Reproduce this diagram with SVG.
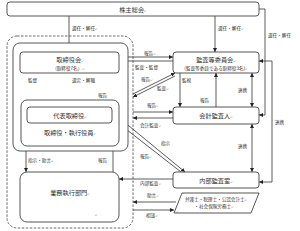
<svg xmlns="http://www.w3.org/2000/svg" width="300" height="231" viewBox="0 0 300 231">
<defs>
<marker id="ah" viewBox="0 0 6 6" refX="6" refY="3" markerWidth="4" markerHeight="4" orient="auto-start-reverse" markerUnits="userSpaceOnUse">
<path d="M0,0 L6,3 L0,6 z" fill="#222"/>
</marker>
<style>
.box{fill:#fff;stroke:#444;stroke-width:0.9}
.t{font-family:"Noto Sans CJK JP","Noto Sans CJK SC",sans-serif;fill:#333;font-size:6.2px}
.s{font-family:"Noto Sans CJK JP","Noto Sans CJK SC",sans-serif;fill:#333;font-size:4.6px}
.r{font-family:"DejaVu Sans",sans-serif;font-size:3px;fill:#777}
.c{stroke:#333;stroke-width:0.8;fill:none}
.a{marker-end:url(#ah)}
.b{marker-start:url(#ah);marker-end:url(#ah)}
</style>
</defs>
<rect width="300" height="231" fill="#fff"/>
<g id="connectors">
<path class="c a" d="M69,16 V52"/>
<path class="c a" d="M215,16 V52"/>
<path class="c a" d="M259,9 H265 V115 H259"/>
<path class="c b" d="M259,61 H272 V182 H259"/>
<path class="c a" d="M119,57 H173"/>
<path class="c a" d="M173,61 H119"/>
<path class="c a" d="M133,94 L175,73"/>
<path class="c a" d="M175,76 L133,97"/>
<path class="c a" d="M26,73 V100"/>
<path class="c a" d="M69,73 V107"/>
<path class="c a" d="M113,100 V73"/>
<path class="c a" d="M180,73 V107"/>
<path class="c a" d="M216,107 V73"/>
<path class="c b" d="M252,73 V107"/>
<path class="c b" d="M252,124 V172"/>
<path class="c a" d="M133,112 H173"/>
<path class="c a" d="M173,118 H133"/>
<path class="c a" d="M112,112 L185,172"/>
<path class="c a" d="M181,172 L113,119"/>
<path class="c a" d="M26,146 V172"/>
<path class="c a" d="M113,172 V146"/>
<path class="c a" d="M173,179 H119"/>
<path class="c a" d="M176,202 H133"/>
<path class="c a" d="M133,210 H174"/>
</g>
<g id="kabunushi">
<rect class="box" x="7" y="2" width="252" height="14" rx="3"/>
<text class="t" x="133" y="11.5" text-anchor="middle">株主総会<tspan class="r">↵</tspan></text>
</g>
<rect x="7" y="36" width="126" height="192" rx="10" fill="none" stroke="#444" stroke-width="0.8" stroke-dasharray="2.5,1.5"/>
<g id="board-group">
<rect class="box" x="13" y="43" width="115" height="108" rx="7"/>
</g>
<g id="torishimariyakukai">
<rect class="box" x="20" y="52" width="99" height="21" rx="3"/>
<text class="t" x="70" y="62" text-anchor="middle">取締役会<tspan class="r">↵</tspan></text>
<text class="s" x="70" y="69.5" text-anchor="middle">(取締役7名）<tspan class="r">↵</tspan></text>
</g>
<g id="shikkou">
<rect class="box" x="21" y="100" width="98" height="46" rx="6"/>
<text class="t" x="70" y="135" text-anchor="middle">取締役・執行役員<tspan class="r">↵</tspan></text>
</g>
<g id="daihyou">
<rect class="box" x="27" y="107" width="85" height="16" rx="3"/>
<text class="t" x="70" y="117.5" text-anchor="middle">代表取締役<tspan class="r">↵</tspan></text>
</g>
<g id="gyomu">
<rect class="box" x="20" y="172" width="99" height="50" rx="7"/>
<text class="t" x="70" y="195" text-anchor="middle">業務執行部門<tspan class="r">↵</tspan></text>
<text class="r" x="95" y="216">↵</text>
</g>
<g id="kansatou">
<rect class="box" x="173" y="52" width="86" height="21" rx="3"/>
<text class="t" x="216" y="62" text-anchor="middle">監査等委員会<tspan class="r">↵</tspan></text>
<text class="s" x="216" y="69.5" text-anchor="middle">(監査等委員である取締役3名)<tspan class="r">↵</tspan></text>
</g>
<g id="kaikei">
<rect class="box" x="173" y="107" width="86" height="17" rx="3"/>
<text class="t" x="216" y="118" text-anchor="middle">会計監査人<tspan class="r">↵</tspan></text>
</g>
<g id="naibu">
<rect class="box" x="173" y="172" width="86" height="16" rx="3"/>
<text class="t" x="216" y="182.5" text-anchor="middle">内部監査室<tspan class="r">↵</tspan></text>
</g>
<g id="senmonka">
<path class="box" d="M182,193 H259 L251,213 H174 Z"/>
<text class="s" x="216" y="201" text-anchor="middle">弁護士・税理士・公認会計士<tspan class="r">↵</tspan></text>
<text class="s" x="214" y="208" text-anchor="middle">・社会保険労務士<tspan class="r">↵</tspan></text>
<text class="r" x="176" y="212.5">↵</text>
</g>
<g id="labels">
<text class="s" x="72" y="30">選任・解任<tspan class="r">↵</tspan></text>
<text class="s" x="218" y="30">選任・解任<tspan class="r">↵</tspan></text>
<text class="s" x="268" y="37">選任・解任</text>
<text class="s" x="144" y="55">報告<tspan class="r">↵</tspan></text>
<text class="s" x="135" y="69">監査・監督</text>
<text class="s" x="141" y="81">報告<tspan class="r">↵</tspan></text>
<text class="s" x="157" y="90">監査<tspan class="r">↵</tspan></text>
<text class="s" x="28" y="82">監督</text>
<text class="s" x="72" y="82">選定・解職</text>
<text class="s" x="98" y="97">報告</text>
<text class="s" x="182" y="82">監視</text>
<text class="s" x="200" y="102">報告</text>
<text class="s" x="238" y="92">連携</text>
<text class="s" x="147" y="107">報告<tspan class="r">↵</tspan></text>
<text class="s" x="140" y="127">会計監査<tspan class="r">↵</tspan></text>
<text class="s" x="238" y="148">連携</text>
<text class="s" x="275" y="124">連携</text>
<text class="s" x="161" y="145">指示</text>
<text class="s" x="140" y="158">報告<tspan class="r">↵</tspan></text>
<text class="s" x="28" y="162">指示・助言<tspan class="r">↵</tspan></text>
<text class="s" x="98" y="162">報告</text>
<text class="s" x="140" y="185">内部監査<tspan class="r">↵</tspan></text>
<text class="s" x="147" y="197">助言<tspan class="r">↵</tspan></text>
<text class="s" x="146" y="217">相談<tspan class="r">↵</tspan></text>
</g>
</svg>
